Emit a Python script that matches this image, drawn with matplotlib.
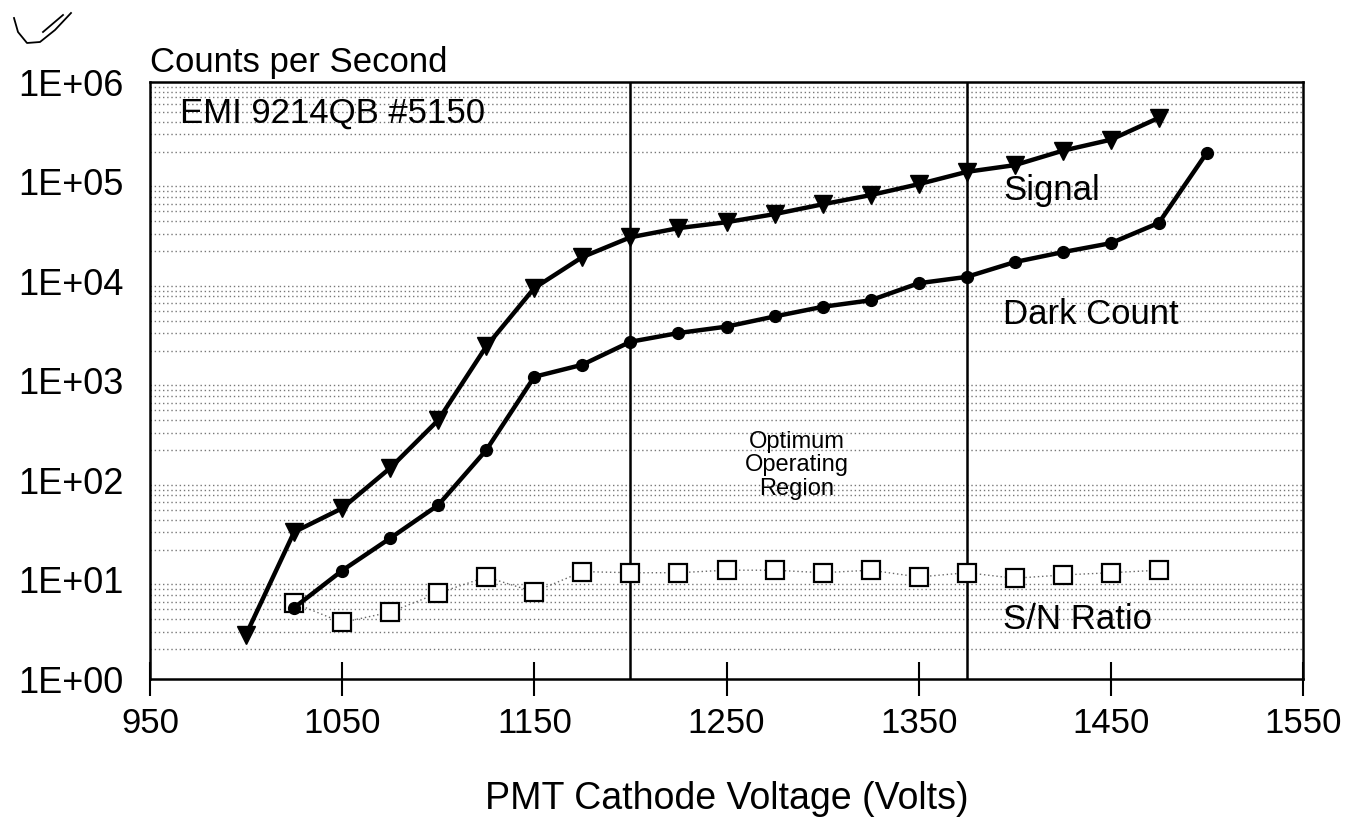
import matplotlib.pyplot as plt
from matplotlib.lines import Line2D

plt.rcParams['font.family'] = ['Liberation Sans', 'DejaVu Sans']

# PMT cathode voltage (V)
volts_signal = [1000, 1025, 1050, 1075, 1100, 1125, 1150, 1175, 1200, 1225,
                1250, 1275, 1300, 1325, 1350, 1375, 1400, 1425, 1450, 1475]
volts_dark = [1025, 1050, 1075, 1100, 1125, 1150, 1175, 1200, 1225, 1250,
              1275, 1300, 1325, 1350, 1375, 1400, 1425, 1450, 1475, 1500]
volts_sn = [1025, 1050, 1075, 1100, 1125, 1150, 1175, 1200, 1225, 1250,
            1275, 1300, 1325, 1350, 1375, 1400, 1425, 1450, 1475]

# counts per second
signal = [2.8, 30, 52, 132, 400, 2200, 8500, 17400, 27500, 34000,
          39000, 47000, 59000, 73000, 94000, 125000, 146000, 204000, 263000, 437000]
dark = [5.2, 12.3, 26, 56, 200, 1090, 1440, 2450, 3000, 3480,
        4400, 5500, 6400, 9500, 11000, 15500, 19500, 24000, 38400, 195000]
sn_ratio = [5.8, 3.7, 4.7, 7.3, 10.6, 7.5, 12, 11.7, 11.7, 12.4,
            12.4, 11.7, 12.4, 10.6, 11.7, 10.3, 11.1, 11.7, 12.4]

region_bounds = [1200, 1375]
x_ticks = [950, 1050, 1150, 1250, 1350, 1450, 1550]
y_ticks = [1, 10, 100, 1000, 10000, 100000, 1000000]
y_labels = ['1E+00', '1E+01', '1E+02', '1E+03', '1E+04', '1E+05', '1E+06']

fig = plt.figure(figsize=(13.52, 8.21), dpi=100)
ax = fig.add_axes([150 / 1352, 1 - 679 / 821, 1153 / 1352, 597 / 821])

ax.set_yscale('log')
ax.set_xlim(950, 1550)
ax.set_ylim(1, 1e6)

# dotted minor grid, looks like the halftone bands in the print
ax.grid(True, which='minor', axis='y', color='#777777', linestyle=(0, (1, 2)), linewidth=1.0)

for xv in region_bounds:
    ax.axvline(xv, color='black', linewidth=1.8)

ax.plot(volts_sn, sn_ratio, color='#666666', linestyle=(0, (1, 2)), linewidth=1.0,
        marker='s', markersize=13, markerfacecolor='white', markeredgecolor='black',
        markeredgewidth=1.6)
ax.plot(volts_dark, dark, color='black', linewidth=3.2, marker='o', markersize=8.5)
ax.plot(volts_signal, signal, color='black', linewidth=3.2, marker='v', markersize=13)

ax.set_xticks(x_ticks)
ax.set_yticks(y_ticks)
ax.set_yticklabels(y_labels)
ax.tick_params(axis='x', direction='inout', length=24, width=1.5, labelsize=25, pad=8)
ax.tick_params(axis='y', length=0, labelsize=26, pad=19)
ax.tick_params(axis='y', which='minor', length=0)
for s in ax.spines.values():
    s.set_linewidth(1.8)

ax.set_xlabel('PMT Cathode Voltage (Volts)', fontsize=27, labelpad=30)

ax.text(0.026, 0.948, 'EMI 9214QB #5150', transform=ax.transAxes, fontsize=25, va='center')
ax.text(0.740, 0.819, 'Signal', transform=ax.transAxes, fontsize=25, va='center')
ax.text(0.740, 0.610, 'Dark Count', transform=ax.transAxes, fontsize=25, va='center')
ax.text(0.740, 0.099, 'S/N Ratio', transform=ax.transAxes, fontsize=25, va='center')
ax.text(0.561, 0.358, 'Optimum\nOperating\nRegion', transform=ax.transAxes, fontsize=17,
        ha='center', va='center', linespacing=1.1)

fig.text(150 / 1352, 1 - 72 / 821, 'Counts per Second', fontsize=25, va='baseline')

# handwritten check mark in the corner
fig.add_artist(Line2D([14 / 1352, 18 / 1352, 27 / 1352, 40 / 1352, 55 / 1352, 71 / 1352],
                      [1 - 18 / 821, 1 - 32 / 821, 1 - 43 / 821, 1 - 42 / 821, 1 - 30 / 821, 1 - 13 / 821],
                      color='black', linewidth=1.3))
fig.add_artist(Line2D([43 / 1352, 63 / 1352], [1 - 32 / 821, 1 - 15 / 821],
                      color='black', linewidth=1.3))

fig.savefig('out.png', dpi=100)
